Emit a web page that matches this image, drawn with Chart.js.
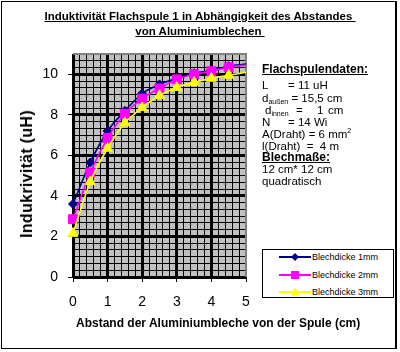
<!DOCTYPE html>
<html><head><meta charset="utf-8">
<script src="https://cdn.jsdelivr.net/npm/chart.js@4.4.1/dist/chart.umd.min.js"></script>
<style>
html,body{margin:0;padding:0;background:#fff;}
#wrap{position:relative;width:400px;height:352px;overflow:hidden;font-family:"Liberation Sans",Arial,sans-serif;color:#000;}
#c{position:absolute;left:0;top:0;}
#frame{position:absolute;left:1px;top:1px;width:396px;height:348px;box-sizing:border-box;border:1px solid #000;border-right-width:2px;pointer-events:none;}
.title{position:absolute;left:0;width:400px;text-align:center;font-weight:bold;font-size:11.5px;line-height:15px;top:9px;}
.title span{text-decoration:underline;white-space:pre;}
#xtitle{position:absolute;left:76px;top:316px;font-weight:bold;font-size:12px;line-height:14px;white-space:nowrap;}
#ytitle{position:absolute;left:27px;top:174px;transform:translate(-50%,-50%) rotate(-90deg);font-weight:bold;font-size:16px;letter-spacing:0.3px;white-space:nowrap;}
.ln{position:absolute;left:262px;font-size:11.5px;line-height:13px;white-space:pre;}
.ln .p{position:absolute;top:0;}
.ln sub{font-size:7px;vertical-align:-2px;line-height:0;}
.ln sup{font-size:7px;vertical-align:5px;line-height:0;}
.hd{font-weight:bold;text-decoration:underline;font-size:12px;}
#legend{position:absolute;left:262px;top:249px;width:132px;height:49px;box-sizing:border-box;border:1px solid #000;background:#fff;}
#legend .row{position:absolute;left:0;height:12px;width:130px;}
#legend svg{position:absolute;left:16px;top:0;}
#legend .lt{position:absolute;left:49px;top:0;font-size:9px;line-height:12px;white-space:nowrap;}
</style>
</head><body>
<div id="wrap">
<canvas id="c" width="400" height="352"></canvas>
<div class="title"><span>Induktivität Flachspule 1 in Abhängigkeit des Abstandes </span><br><span>von Aluminiumblechen </span></div>
<div id="ytitle">Indukrivität (uH)</div>
<div id="xtitle">Abstand der Aluminiumbleche von der Spule (cm)</div>
<div class="ln hd" style="top:63px">Flachspulendaten:</div>
<div class="ln" style="top:79px">L<span class="p" style="left:26px">= 11 uH</span></div>
<div class="ln" style="top:92px">d<sub>außen</sub> = 15,5 cm</div>
<div class="ln" style="top:104px"><span class="p" style="left:3px">d<sub>innen</sub></span><span class="p" style="left:34px">=</span><span class="p" style="left:55px">1</span><span class="p" style="left:66px">cm</span></div>
<div class="ln" style="top:116px">N<span class="p" style="left:26px">= 14 Wi</span></div>
<div class="ln" style="top:128px">A(Draht) = 6 mm<sup>2</sup></div>
<div class="ln" style="top:140px">l(Draht)  =  4 m</div>
<div class="ln hd" style="top:151px">Blechmaße:</div>
<div class="ln" style="top:163px">12 cm* 12 cm</div>
<div class="ln" style="top:175px">quadratisch</div>
<div id="legend"></div>
<div id="frame"></div>
</div>
<script>
// ---- data ----
const distances = [0, 0.5, 1, 1.5, 2, 2.5, 3, 3.5, 4, 4.5, 5];
const blechdicke1mm = [3.6, 5.65, 7.2, 8.2, 9.05, 9.5, 9.8, 10.05, 10.2, 10.4, 10.5];
const blechdicke2mm = [2.85, 5.15, 6.85, 8.05, 8.8, 9.3, 9.75, 10.0, 10.15, 10.35, 10.45];
const blechdicke3mm = [2.15, 4.7, 6.35, 7.6, 8.35, 8.95, 9.35, 9.6, 9.8, 9.95, 10.1];
const seriesLabels = ['Blechdicke 1mm', 'Blechdicke 2mm', 'Blechdicke 3mm'];
const xTickValues = [0, 1, 2, 3, 4, 5];
const yTickValues = [0, 2, 4, 6, 8, 10];

// ---- styles ----
const FONT = '"Liberation Sans", Arial, sans-serif';
const seriesValues = [blechdicke1mm, blechdicke2mm, blechdicke3mm];
const seriesStyles = [
  {color: '#000080', pointStyle: 'rectRot', radius: 4.5},
  {color: '#ff00ff', pointStyle: 'rect', radius: 6.3},
  {color: '#ffff00', pointStyle: 'triangle', radius: 5.8}
];
const lastIdx = distances.length - 1;

const datasets = seriesValues.map((vals, i) => {
  const st = seriesStyles[i];
  return {
    label: seriesLabels[i],
    data: distances.map((d, j) => ({x: d, y: vals[j]})),
    borderColor: st.color,
    backgroundColor: st.color,
    pointBackgroundColor: st.color,
    pointBorderColor: st.color,
    pointBorderWidth: 1,
    borderWidth: 1.6,
    pointStyle: st.pointStyle,
    pointRadius: ctx => ctx.dataIndex === lastIdx ? 0 : st.radius,
    cubicInterpolationMode: 'monotone',
    order: 3 - i,
    clip: false
  };
});

const plotDeco = {
  id: 'plotDeco',
  beforeDraw(chart) {
    const {ctx, chartArea: a} = chart;
    ctx.save();
    ctx.fillStyle = '#c0c0c0';
    ctx.fillRect(a.left, a.top, a.right - a.left, a.bottom - a.top);
    ctx.restore();
  },
  beforeDatasetsDraw(chart) {
    const {ctx, chartArea: a} = chart;
    ctx.save();
    ctx.strokeStyle = '#808080';
    ctx.lineWidth = 2;
    ctx.beginPath();
    ctx.moveTo(a.left, a.top);
    ctx.lineTo(a.right, a.top);
    ctx.lineTo(a.right, a.bottom);
    ctx.stroke();
    ctx.restore();
  }
};

new Chart(document.getElementById('c'), {
  type: 'line',
  data: {datasets},
  plugins: [plotDeco],
  options: {
    responsive: false,
    animation: false,
    events: [],
    layout: {padding: {top: 54, right: 154, left: 0, bottom: 0}},
    plugins: {legend: {display: false}, tooltip: {enabled: false}, title: {display: false}},
    scales: {
      x: {
        type: 'linear', position: 'bottom', min: 0, max: 5,
        afterBuildTicks: s => { s.ticks = xTickValues.map(v => ({value: v})); },
        afterFit: s => { s.height = 75; },
        ticks: {font: {family: FONT, size: 14}, color: '#000', padding: 12, maxRotation: 0},
        grid: {
          color: c => (c.tick && c.tick.value === 5) ? 'rgba(0,0,0,0)' : '#000',
          lineWidth: 3, tickLength: 5, tickColor: '#000', tickWidth: 1
        },
        border: {display: false}
      },
      xMinor: {
        type: 'linear', position: 'bottom', min: 0, max: 25,
        afterFit: s => { s.height = 0; },
        ticks: {display: false, stepSize: 1},
        grid: {color: '#000', lineWidth: 1, drawTicks: false, z: -2},
        border: {display: false}
      },
      y: {
        type: 'linear', position: 'left', min: 0, max: 11,
        afterBuildTicks: s => { s.ticks = yTickValues.map(v => ({value: v})); },
        afterFit: s => { s.width = 73; },
        ticks: {font: {family: FONT, size: 14}, color: '#000', padding: 10},
        grid: {color: '#000', lineWidth: 3, tickLength: 5, tickColor: '#000', tickWidth: 1},
        border: {display: false}
      },
      yMinor: {
        type: 'linear', position: 'left', min: 0, max: 33,
        afterFit: s => { s.width = 0; },
        ticks: {display: false, stepSize: 1},
        grid: {color: '#000', lineWidth: 1, drawTicks: false, z: -2},
        border: {display: false}
      }
    }
  }
});

// ---- legend built from the datasets ----
const legend = document.getElementById('legend');
const NS = 'http://www.w3.org/2000/svg';
seriesLabels.forEach((lab, i) => {
  const st = seriesStyles[i];
  const row = document.createElement('div');
  row.className = 'row';
  row.style.top = (1 + i * 17.5) + 'px';
  const svg = document.createElementNS(NS, 'svg');
  svg.setAttribute('width', '34'); svg.setAttribute('height', '12');
  const line = document.createElementNS(NS, 'line');
  line.setAttribute('x1', '0'); line.setAttribute('x2', '32');
  line.setAttribute('y1', '6'); line.setAttribute('y2', '6');
  line.setAttribute('stroke', st.color); line.setAttribute('stroke-width', '2');
  svg.appendChild(line);
  let m;
  if (st.pointStyle === 'rectRot') {
    m = document.createElementNS(NS, 'polygon');
    m.setAttribute('points', '16,2 20,6 16,10 12,6');
  } else if (st.pointStyle === 'rect') {
    m = document.createElementNS(NS, 'rect');
    m.setAttribute('x', '12'); m.setAttribute('y', '2'); m.setAttribute('width', '8'); m.setAttribute('height', '8');
  } else {
    m = document.createElementNS(NS, 'polygon');
    m.setAttribute('points', '16,1.5 20.5,9.5 11.5,9.5');
  }
  m.setAttribute('fill', st.color);
  svg.appendChild(m);
  row.appendChild(svg);
  const t = document.createElement('span');
  t.className = 'lt';
  t.textContent = lab;
  row.appendChild(t);
  legend.appendChild(row);
});
</script>
</body></html>
